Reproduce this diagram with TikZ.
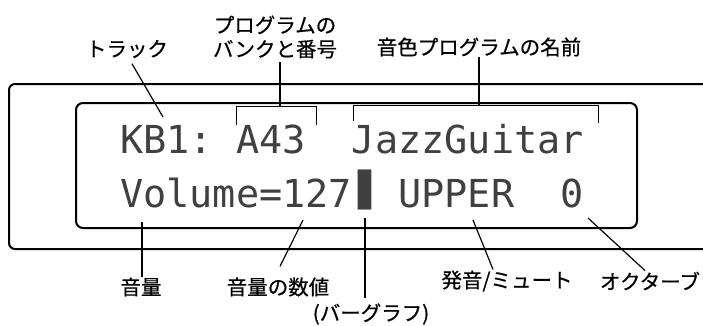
\documentclass[tikz,border=0pt]{standalone}
\usepackage{fontspec}
\usepackage{graphicx}
\newfontfamily\jp[FakeBold=0.6]{Noto Sans CJK JP}
\newfontfamily\lcdfont{DejaVu Sans Mono}
\newcommand{\lcdbar}{\makebox[\fontcharwd\font`0][c]{\hspace{3pt}\scalebox{1.25}[1.75]{▮}}}
\begin{document}
\begin{tikzpicture}[x=1pt,y=-1pt,
  lbl/.style={font=\jp\fontsize{20.5}{24}\selectfont, inner sep=0pt, align=center},
  lcdtxt/.style={font=\lcdfont\fontsize{38.5}{40}\selectfont, text=black!75, inner sep=0pt, anchor=base west},
  frame/.style={line width=2pt},
  leader/.style={line width=1.2pt},
  brk/.style={line width=1pt}]
\useasboundingbox (0,0) rectangle (703,325);
% outer frame (open to the right)
\draw[frame, rounded corners=6pt] (710,84) -- (9,84) -- (9,249) -- (710,249);
% LCD window
\node[draw, frame, rounded corners=7pt, minimum width=561pt, minimum height=125pt, inner sep=0pt] (lcd) at (356.5,165.5) {};
% LCD text
\node[lcdtxt] (row1) at (120,153) {KB1:\ A43\ \ JazzGuitar};
\node[lcdtxt] (row2) at (120,207) {Volume=127\lcdbar\ UPPER\ \ 0};
% labels
\node[lbl] (trk) at (127,49) {トラック};
\node[lbl] (bank) at (275,37) {プログラムの\\バンクと番号};
\node[lbl] (name) at (479,47) {音色プログラムの名前};
\node[lbl] (vol) at (141,287) {音量};
\node[lbl] (volnum) at (278,287) {音量の数値};
\node[lbl] (bar) at (371,314) {(バーグラフ)};
\node[lbl] (mute) at (507,281) {発音/ミュート};
\node[lbl] (oct) at (650,281) {オクターブ};
% coordinates in the LCD
\coordinate (cTrk) at (163,117);
\coordinate (cBank) at (280,106);
\coordinate (cName) at (479,105);
\coordinate (cVol) at (142,222);
\coordinate (cVolnum) at (303,220);
\coordinate (cBar) at (365,218);
\coordinate (cMute) at (473,220);
\coordinate (cOct) at (588,218);
% brackets
\draw[brk] (236,125) -- (236,106) -- (316,106) -- (316,125);
\draw[brk] (353,121) -- (353,105) -- (598,105) -- (598,123);
% leaders
\draw[leader] ([xshift=5pt,yshift=-5.5pt]trk.south) -- (cTrk);
\draw[leader] ([xshift=5pt,yshift=-3pt]bank.south) -- (cBank);
\draw[leader] (name.south) -- (cName);
\draw[leader] (cVol) -- ([xshift=1pt]vol.north);
\draw[leader] (cVolnum) -- ([xshift=2pt,yshift=11pt]volnum.north);
\draw[leader] (cBar) -- ([xshift=-6pt,yshift=5pt]bar.north);
\draw[leader] (cMute) -- ([xshift=-14pt,yshift=1pt]mute.north);
\draw[leader] (cOct) -- ([xshift=-5pt,yshift=1pt]oct.north);
\end{tikzpicture}
\end{document}
